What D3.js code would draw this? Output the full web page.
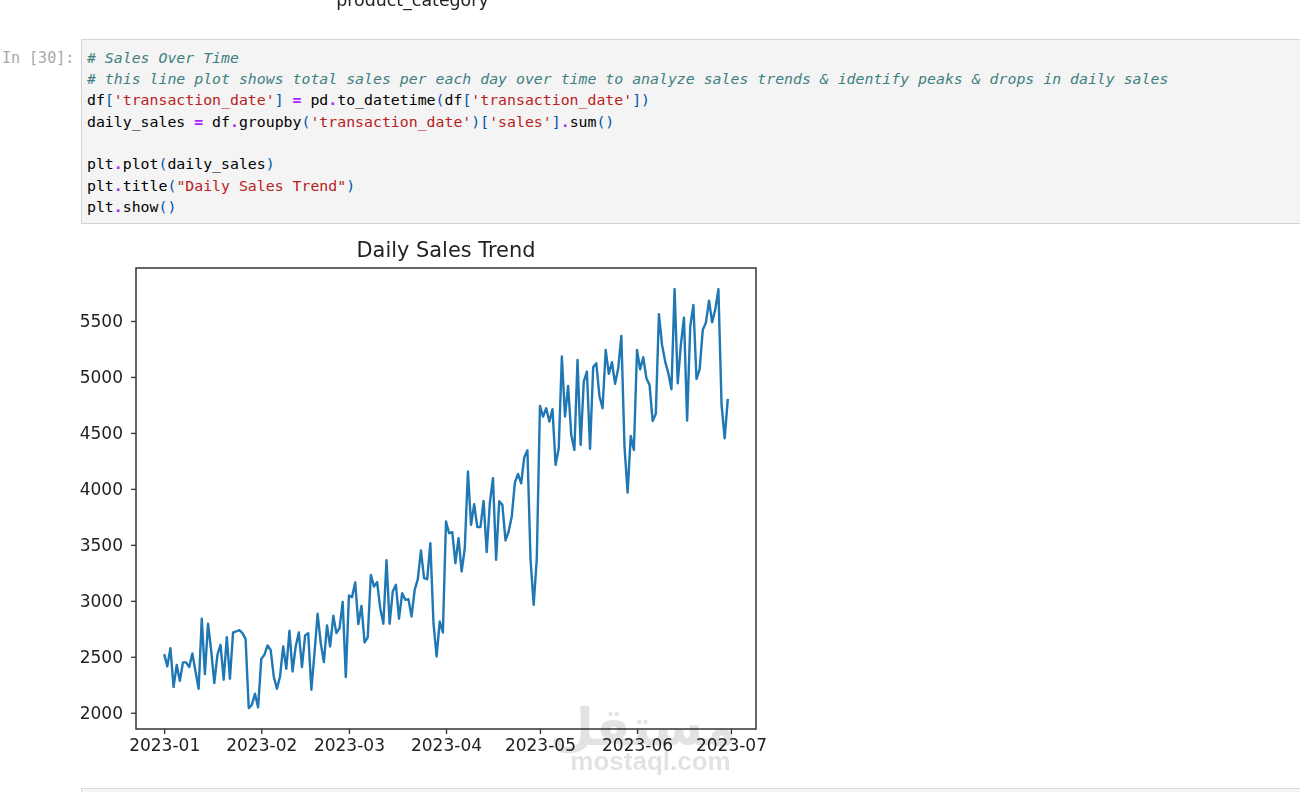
<!DOCTYPE html>
<html>
<head>
<meta charset="utf-8">
<script src="https://cdn.jsdelivr.net/npm/d3@7"></script>
<style>
  html, body { margin: 0; padding: 0; background: #fff; overflow: hidden; }
  svg { display: block; }
  .tick text { font-family: "DejaVu Sans"; font-size: 17px; fill: #222; }
  .soft { filter: blur(0.4px); }
</style>
</head>
<body>
<div id="chart"></div>
<script>
// daily totals, 2023-01-01 to 2023-06-30
const dailySales = [
  2524, 2414, 2577, 2229, 2428, 2285, 2450, 2450, 2408, 2530,
  2370, 2214, 2840, 2345, 2795, 2560, 2265, 2518, 2607, 2295,
  2675, 2304, 2717, 2726, 2738, 2711, 2658, 2042, 2071, 2170,
  2048, 2479, 2518, 2601, 2562, 2324, 2214, 2324, 2592, 2393,
  2732, 2369, 2592, 2717, 2408, 2690, 2711, 2205, 2533, 2884,
  2622, 2452, 2780, 2592, 2866, 2711, 2756, 2991, 2318, 3048,
  3033, 3164, 2792, 2955, 2628, 2673, 3232, 3128, 3167, 2934,
  2795, 3363, 2795, 3083, 3143, 2840, 3068, 3009, 3015, 2860,
  3098, 3193, 3449, 3202, 3193, 3515, 2800, 2503, 2815, 2717,
  3708, 3604, 3613, 3336, 3560, 3262, 3470, 4155, 3679, 3863,
  3658, 3658, 3893, 3435, 3872, 4095, 3366, 3890, 3857, 3539,
  3619, 3753, 4057, 4134, 4050, 4283, 4345, 3366, 2964, 3381,
  4741, 4646, 4720, 4601, 4711, 4214, 4363, 5182, 4646, 4920,
  4482, 4348, 5152, 4393, 4958, 5048, 4357, 5086, 5122, 4830,
  4720, 5241, 5027, 5131, 4938, 5077, 5366, 4378, 3967, 4473,
  4348, 5241, 5068, 5176, 4988, 4929, 4607, 4670, 5560, 5286,
  5137, 5033, 4890, 5786, 4943, 5286, 5530, 4610, 5449, 5643,
  4982, 5068, 5420, 5485, 5682, 5488, 5604, 5783, 4750, 4452,
  4804
];
const yTicks = [2000, 2500, 3000, 3500, 4000, 4500, 5000, 5500];
const xTickMonths = ["2023-01", "2023-02", "2023-03", "2023-04", "2023-05", "2023-06", "2023-07"];

// notebook cell source, as [text, token type] per line
const codeLines = [
  [["# Sales Over Time", "comment"]],
  [["# this line plot shows total sales per each day over time to analyze sales trends & identify peaks & drops in daily sales", "comment"]],
  [["df", "name"], ["[", "bracket"], ["'transaction_date'", "string"], ["]", "bracket"], [" ", "name"], ["=", "op"], [" pd", "name"], [".", "op"], ["to_datetime", "name"], ["(", "bracket"], ["df", "name"], ["[", "bracket"], ["'transaction_date'", "string"], ["])", "bracket"]],
  [["daily_sales ", "name"], ["=", "op"], [" df", "name"], [".", "op"], ["groupby", "name"], ["(", "bracket"], ["'transaction_date'", "string"], [")[", "bracket"], ["'sales'", "string"], ["]", "bracket"], [".", "op"], ["sum", "name"], ["()", "bracket"]],
  [],
  [["plt", "name"], [".", "op"], ["plot", "name"], ["(", "bracket"], ["daily_sales", "name"], [")", "bracket"]],
  [["plt", "name"], [".", "op"], ["title", "name"], ["(", "bracket"], ["\"Daily Sales Trend\"", "string"], [")", "bracket"]],
  [["plt", "name"], [".", "op"], ["show", "name"], ["()", "bracket"]]
];
const tokenColors = { comment: "#408080", name: "#000", bracket: "#05a", string: "#ba2121", op: "#a2f" };

const width = 1300,
  height = 792;
const box = { left: 136, right: 756, top: 268, bottom: 729 };

const svg = d3.select("#chart").append("svg")
  .attr("width", width)
  .attr("height", height);

// Previous figure's cut off label
svg.append("text")
  .attr("class", "soft")
  .attr("x", 412.5)
  .attr("y", 6)
  .attr("text-anchor", "middle")
  .attr("font-family", "DejaVu Sans")
  .attr("font-size", 17.4)
  .attr("fill", "#222")
  .text("product_category");

// Code cell
svg.append("rect")
  .attr("x", 81.5).attr("y", 39.5)
  .attr("width", 1230).attr("height", 184)
  .attr("fill", "#f4f4f4")
  .attr("stroke", "#d4d4d4");

svg.append("text")
  .attr("x", 2)
  .attr("y", 63)
  .attr("font-family", "DejaVu Sans Mono")
  .attr("font-size", 15)
  .attr("fill", "#a8a8a8")
  .text("In [30]:");

svg.append("g").selectAll("text")
  .data(codeLines)
  .join("text")
  .attr("x", 87)
  .attr("y", (d, i) => 62.6 + i * 21.33)
  .style("white-space", "pre")
  .attr("font-family", "DejaVu Sans Mono")
  .attr("font-size", 14.85)
  .selectAll("tspan")
  .data(d => d)
  .join("tspan")
  .attr("fill", d => tokenColors[d[1]])
  .attr("font-style", d => d[1] === "comment" ? "italic" : null)
  .attr("font-weight", d => d[1] === "op" ? "bold" : null)
  .text(d => d[0]);

// Next cell, only its top edge is in frame
svg.append("rect")
  .attr("x", 81.5).attr("y", 788.5)
  .attr("width", 1230).attr("height", 20)
  .attr("fill", "#f4f4f4")
  .attr("stroke", "#d9d9d9");

// Scales use matplotlib's default 5% margins
const parseMonth = d3.utcParse("%Y-%m");
const dates = d3.utcDay.range(new Date(Date.UTC(2023, 0, 1)), new Date(Date.UTC(2023, 5, 31)));
const series = dates.map((d, i) => ({ date: d, value: dailySales[i] }));

const dateExtent = d3.extent(dates, d => +d);
const dateMargin = (dateExtent[1] - dateExtent[0]) * 0.05;
const x = d3.scaleUtc()
  .domain([dateExtent[0] - dateMargin, dateExtent[1] + dateMargin])
  .range([box.left, box.right]);

const valueExtent = d3.extent(dailySales);
const valueMargin = (valueExtent[1] - valueExtent[0]) * 0.05;
const y = d3.scaleLinear()
  .domain([valueExtent[0] - valueMargin, valueExtent[1] + valueMargin])
  .range([box.bottom, box.top]);

// Line
const line = d3.line().x(d => x(d.date)).y(d => y(d.value));
svg.append("path")
  .datum(series)
  .attr("class", "soft")
  .attr("fill", "none")
  .attr("stroke", "#1f77b4")
  .attr("stroke-width", 2.4)
  .attr("stroke-linejoin", "round")
  .attr("d", line);

// Axes
const xAxis = svg.append("g")
  .attr("class", "soft")
  .attr("transform", `translate(0,${box.bottom})`)
  .call(d3.axisBottom(x)
    .tickValues(xTickMonths.map(parseMonth))
    .tickFormat(d3.utcFormat("%Y-%m"))
    .tickSize(5)
    .tickPadding(5));
xAxis.select(".domain").remove();

const yAxis = svg.append("g")
  .attr("class", "soft")
  .attr("transform", `translate(${box.left},0)`)
  .call(d3.axisLeft(y)
    .tickValues(yTicks)
    .tickFormat(d3.format("d"))
    .tickSize(5)
    .tickPadding(8));
yAxis.select(".domain").remove();

svg.selectAll(".tick line").attr("stroke", "#333").attr("stroke-width", 1.3);

svg.append("rect")
  .attr("x", box.left).attr("y", box.top)
  .attr("width", box.right - box.left).attr("height", box.bottom - box.top)
  .attr("fill", "none")
  .attr("stroke", "#333")
  .attr("stroke-width", 1.5);

svg.append("text")
  .attr("class", "soft")
  .attr("x", (box.left + box.right) / 2)
  .attr("y", 257)
  .attr("text-anchor", "middle")
  .attr("font-family", "DejaVu Sans")
  .attr("font-size", 20.9)
  .attr("fill", "#222")
  .text("Daily Sales Trend");

// Watermark
svg.append("text")
  .attr("x", 643)
  .attr("y", 745)
  .attr("text-anchor", "middle")
  .attr("font-family", "DejaVu Sans")
  .attr("font-weight", "bold")
  .attr("font-size", 51)
  .attr("fill", "#000")
  .attr("opacity", 0.11)
  .text("مستقل");

svg.append("text")
  .attr("x", 650.5)
  .attr("y", 770)
  .attr("text-anchor", "middle")
  .attr("font-family", "Liberation Sans")
  .attr("font-weight", "bold")
  .attr("font-size", 26)
  .attr("fill", "#000")
  .attr("opacity", 0.11)
  .text("mostaql.com");
</script>
</body>
</html>
